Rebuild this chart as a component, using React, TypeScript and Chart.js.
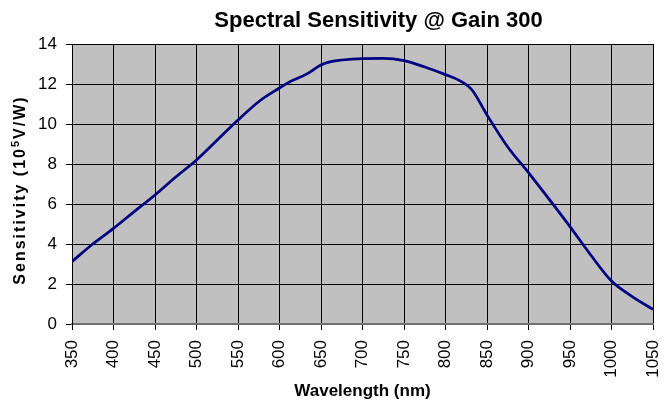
import React, { useEffect, useRef } from "react";
import { Chart, registerables } from "chart.js";

Chart.register(...registerables);

// ---- data ----
const wavelengths = [
  350, 375, 400, 425, 450, 475, 500, 525, 550, 576, 600, 612, 632, 650, 662, 675,
  700, 725, 750, 775, 800, 817, 832, 850, 875, 900, 925, 950, 975, 1000, 1025, 1050,
];
const sensitivity = [
  3.12, 4.0, 4.78, 5.62, 6.45, 7.35, 8.2, 9.2, 10.2, 11.15, 11.8, 12.1, 12.48, 12.95, 13.12, 13.2,
  13.27, 13.28, 13.17, 12.85, 12.47, 12.17, 11.7, 10.45, 8.85, 7.57, 6.23, 4.87, 3.45, 2.15, 1.37, 0.73,
];
const xTickValues = [350, 400, 450, 500, 550, 600, 650, 700, 750, 800, 850, 900, 950, 1000, 1050];
const yTickValues = [0, 2, 4, 6, 8, 10, 12, 14];

const chartTitle = "Spectral Sensitivity @ Gain 300";
const xTitle = "Wavelength (nm)";
const yTitleParts = ["Sensitivity (10", "5", "V/W)"];

const FONT = "'Liberation Sans', Arial, sans-serif";

const bgPlugin = {
  id: "plotBg",
  beforeDraw(chart: any) {
    const { ctx, chartArea } = chart;
    ctx.save();
    ctx.fillStyle = "#C0C0C0";
    ctx.fillRect(chartArea.left, chartArea.top, chartArea.right - chartArea.left, chartArea.bottom - chartArea.top);
    ctx.restore();
  },
};

const textPlugin = {
  id: "texts",
  afterDraw(chart: any) {
    const { ctx, chartArea } = chart;
    // main title
    ctx.save();
    ctx.fillStyle = "#000";
    ctx.font = `bold 22px ${FONT}`;
    ctx.textAlign = "center";
    ctx.textBaseline = "alphabetic";
    ctx.fillText(chartTitle, (chartArea.left + chartArea.right) / 2 + 16, 27);
    ctx.restore();

    // y axis title with superscript
    ctx.save();
    ctx.fillStyle = "#000";
    (ctx as any).letterSpacing = "2px";
    const big = `bold 16px ${FONT}`;
    const small = `bold 11px ${FONT}`;
    ctx.font = big;
    const w1 = ctx.measureText(yTitleParts[0]).width;
    const w3 = ctx.measureText(yTitleParts[2]).width;
    ctx.font = small;
    const w2 = ctx.measureText(yTitleParts[1]).width;
    const total = w1 + w2 + w3;
    const cy = (chartArea.top + chartArea.bottom) / 2 + 6;
    ctx.translate(25, cy);
    ctx.rotate(-Math.PI / 2);
    ctx.textAlign = "left";
    ctx.textBaseline = "alphabetic";
    let x = -total / 2;
    ctx.font = big;
    ctx.fillText(yTitleParts[0], x, 0);
    x += w1;
    ctx.font = small;
    ctx.fillText(yTitleParts[1], x, -6);
    x += w2;
    ctx.font = big;
    ctx.fillText(yTitleParts[2], x, 0);
    ctx.restore();
  },
};

export default function App() {
  const ref = useRef<HTMLCanvasElement | null>(null);

  useEffect(() => {
    document.body.style.margin = "0";
    const canvas = ref.current;
    if (!canvas) return;
    const chart = new Chart(canvas, {
      type: "line",
      data: {
        datasets: [
          {
            data: wavelengths.map((w, i) => ({ x: w, y: sensitivity[i] })),
            borderColor: "#000080",
            borderWidth: 2.75,
            pointRadius: 0,
            cubicInterpolationMode: "monotone",
            fill: false,
          },
        ],
      },
      options: {
        responsive: false,
        animation: false,
        devicePixelRatio: 1,
        layout: { padding: { top: 44, right: 11, bottom: 0, left: 0 } },
        plugins: {
          legend: { display: false },
          title: { display: false },
          tooltip: { enabled: false },
        },
        scales: {
          x: {
            type: "linear",
            min: 350,
            max: 1050,
            afterBuildTicks: (scale: any) => {
              scale.ticks = xTickValues.map((v) => ({ value: v }));
            },
            afterFit: (scale: any) => {
              scale.height = 83;
              scale.paddingLeft = 0;
              scale.paddingRight = 0;
            },
            ticks: {
              autoSkip: false,
              maxRotation: 90,
              minRotation: 90,
              padding: 10,
              color: "#000",
              font: { family: FONT, size: 17 },
              callback: (v: any) => String(v),
            },
            grid: { color: "#000", lineWidth: 1, tickLength: 6, drawTicks: true },
            border: { color: "#707070", width: 2 },
            title: {
              display: true,
              text: xTitle,
              color: "#000",
              font: { family: FONT, size: 17, weight: "bold" },
              padding: { top: 0, bottom: 5 },
            },
          },
          y: {
            min: 0,
            max: 14,
            afterBuildTicks: (scale: any) => {
              scale.ticks = yTickValues.map((v) => ({ value: v }));
            },
            afterFit: (scale: any) => {
              scale.width = 72;
              scale.paddingTop = 0;
              scale.paddingBottom = 0;
            },
            ticks: {
              padding: 9,
              color: "#000",
              font: { family: FONT, size: 17 },
              callback: (v: any) => String(v),
            },
            grid: { color: "#000", lineWidth: 1, tickLength: 6, drawTicks: true },
            border: { color: "#000", width: 1 },
          },
        },
      },
      plugins: [bgPlugin, textPlugin],
    });
    return () => chart.destroy();
  }, []);

  return (
    <div style={{ width: 664, height: 407 }}>
      <canvas ref={ref} width={664} height={407} style={{ display: "block" }} />
    </div>
  );
}
